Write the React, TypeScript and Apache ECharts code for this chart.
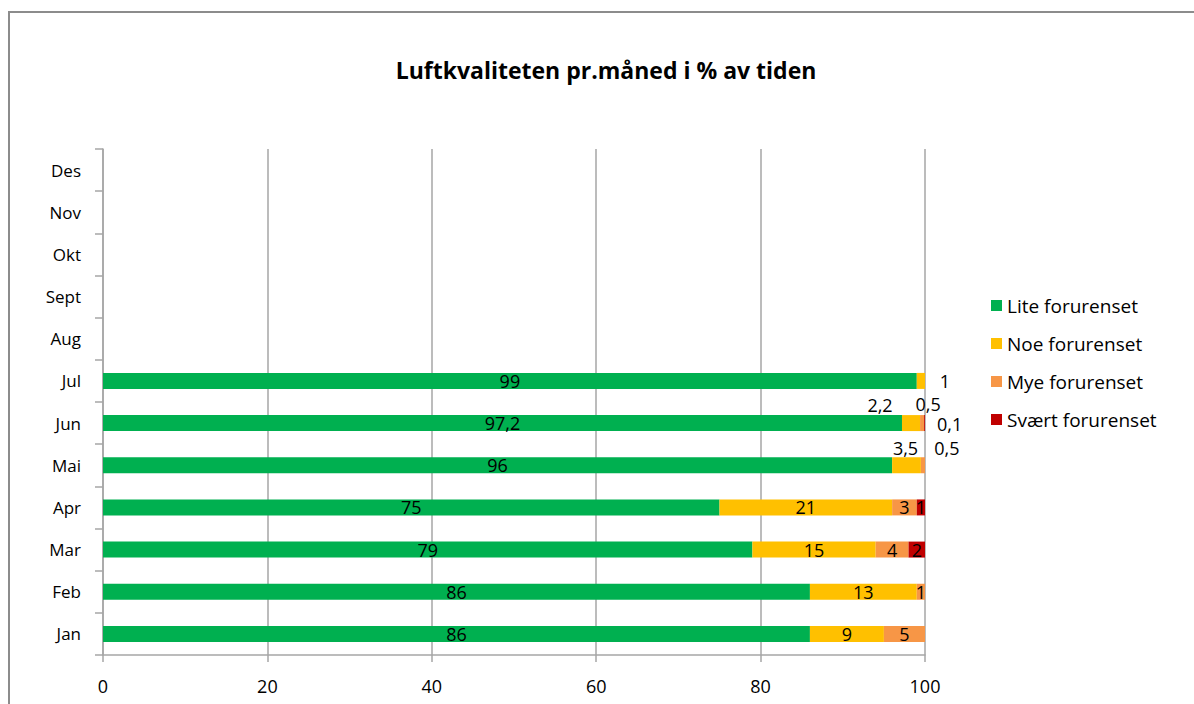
import React, { useEffect, useRef } from "react";
import * as echarts from "echarts";

const months = ["Jan", "Feb", "Mar", "Apr", "Mai", "Jun", "Jul", "Aug", "Sept", "Okt", "Nov", "Des"];
const seriesNames = ["Lite forurenset", "Noe forurenset", "Mye forurenset", "Svært forurenset"];
const lite = [86, 86, 79, 75, 96, 97.2, 99, null, null, null, null, null];
const noe = [9, 13, 15, 21, 3.5, 2.2, 1, null, null, null, null, null];
const mye = [5, 1, 4, 3, 0.5, 0.5, null, null, null, null, null, null];
const svaert = [null, null, 2, 1, null, 0.1, null, null, null, null, null, null];
const xTicks = [0, 20, 40, 60, 80, 100];
const colors = ["#00B050", "#FFC000", "#F79646", "#C00000"];

// label nudges (styling only): [seriesIndex, monthIndex, dx, dy]
const nudges: [number, number, number, number][] = [
  [1, 6, 24, 0],
  [1, 5, -31, -18],
  [2, 5, 6, -19],
  [3, 5, 25, 1],
  [1, 4, -1, -17],
  [2, 4, 24, -17],
];

const FONT = "Open Sans";

export default function App() {
  const ref = useRef<HTMLDivElement>(null);
  useEffect(() => {
    if (!ref.current) return;
    const chart = echarts.init(ref.current, null, { renderer: "svg" });
    const all = [lite, noe, mye, svaert];
    const series = all.map((arr, si) => ({
      name: seriesNames[si],
      type: "bar",
      stack: "total",
      barWidth: 16,
      itemStyle: { color: colors[si] },
      label: {
        show: true,
        position: "inside",
        color: "#000",
        fontFamily: FONT,
        fontSize: 18,
        formatter: (p: any) => (p.value == null || p.value === 0 ? "" : String(p.value).replace(".", ",")),
      },
      data: arr.map((v, mi) => {
        const n = nudges.find((x) => x[0] === si && x[1] === mi);
        if (n && v != null) {
          return { value: v, label: { offset: [n[2], n[3]] } };
        }
        return v;
      }),
    }));
    chart.setOption({
      animation: false,
      backgroundColor: "#fff",
      title: {
        text: "Luftkvaliteten pr.måned i % av tiden",
        left: 601,
        textAlign: "center",
        top: 53,
        textStyle: { fontFamily: FONT, fontSize: 23, fontWeight: "bold", color: "#000" },
      },
      legend: {
        orient: "vertical",
        left: 986,
        top: 291,
        itemWidth: 11,
        itemHeight: 11,
        itemGap: 19,
        icon: "rect",
        data: seriesNames,
        textStyle: { fontFamily: FONT, fontSize: 19, lineHeight: 19, color: "#000" },
      },
      grid: { left: 103, right: 269, top: 149, bottom: 49 },
      xAxis: {
        type: "value",
        min: xTicks[0],
        max: xTicks[xTicks.length - 1],
        interval: 20,
        axisLine: { show: true, lineStyle: { color: "#A6A6A6", width: 1.5 } },
        axisTick: { show: true, length: 7, lineStyle: { color: "#A6A6A6", width: 1.5 } },
        axisLabel: { fontFamily: FONT, fontSize: 18, color: "#000", margin: 22 },
        splitLine: { show: true, lineStyle: { color: "#A6A6A6", width: 1.5 } },
      },
      yAxis: {
        type: "category",
        data: months,
        axisLine: { show: true, lineStyle: { color: "#A6A6A6", width: 1.5 } },
        axisTick: { show: true, length: 8, lineStyle: { color: "#A6A6A6", width: 1.5 } },
        axisLabel: { fontFamily: FONT, fontSize: 17, color: "#000", margin: 22 },
      },
      graphic: [
        {
          type: "rect",
          shape: { x: 9, y: 12, width: 1250, height: 760 },
          style: { fill: "none", stroke: "#8C8C8C", lineWidth: 2 },
          silent: true,
        },
      ],
      series,
    });
    return () => chart.dispose();
  }, []);
  return (
    <div
      ref={ref}
      style={{ position: "fixed", left: 0, top: 0, width: 1194, height: 704 }}
    />
  );
}
